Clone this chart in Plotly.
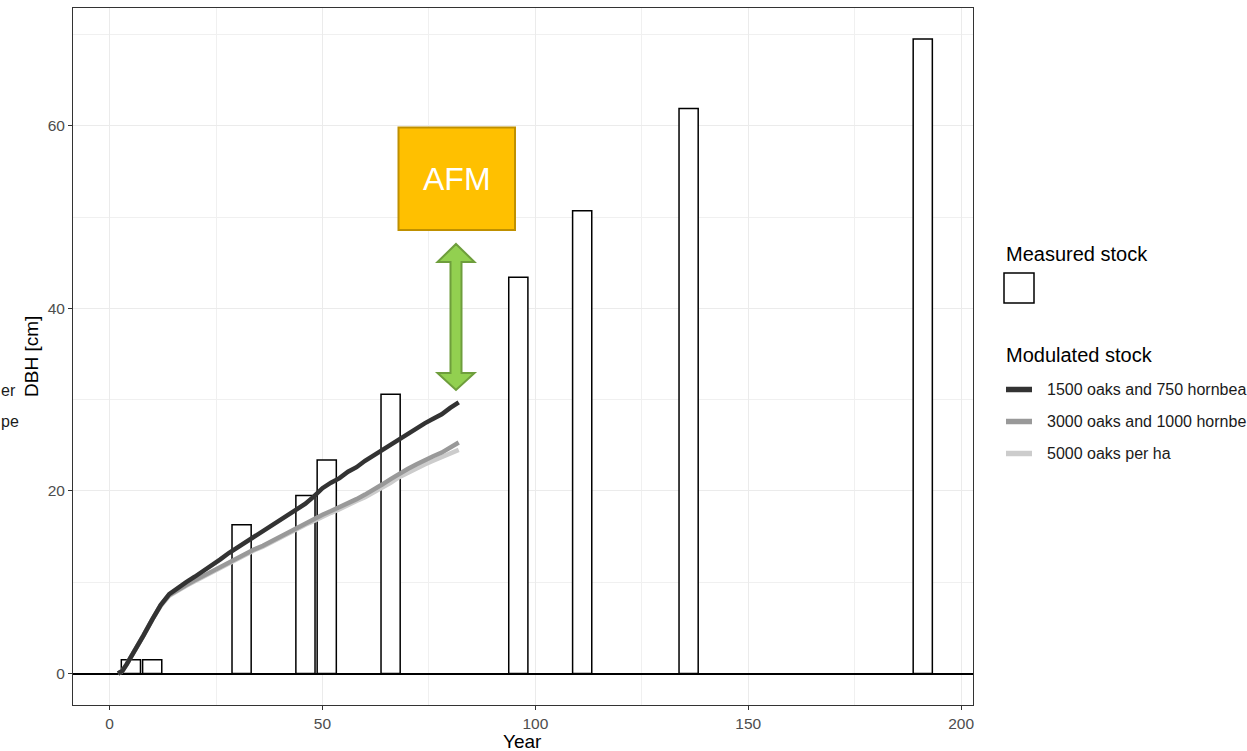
import plotly.graph_objects as go

# ---------------- data ----------------
bar_years = [5, 10, 31, 46, 51, 66, 96, 111, 136, 191]
bar_dbh = [1.5, 1.5, 16.3, 19.5, 23.4, 30.6, 43.4, 50.7, 61.9, 69.5]

line_years = [2, 3, 4, 6, 8, 10, 12, 14, 16, 18, 20, 22, 24, 26, 28, 30, 32, 34, 36, 38, 40,
              42, 44, 46, 48, 50, 52, 54, 56, 58, 60, 62, 64, 66, 68, 70, 72, 74, 76, 78, 80, 82]
dbh_1500 = [0.0, 0.3, 1.0, 2.5, 4.2, 5.9, 7.5, 8.7, 9.4, 10.0, 10.6, 11.2, 11.9, 12.5, 13.2,
            13.8, 14.4, 15.0, 15.5, 16.1, 16.7, 17.3, 17.9, 18.6, 19.4, 20.3, 20.9, 21.4, 22.1,
            22.6, 23.3, 23.9, 24.5, 25.1, 25.7, 26.3, 26.8, 27.4, 27.9, 28.4, 29.1, 29.7]
dbh_3000 = [0.0, 0.3, 1.0, 2.5, 4.2, 5.9, 7.5, 8.6, 9.2, 9.7, 10.2, 10.7, 11.2, 11.7, 12.2,
            12.6, 13.1, 13.6, 14.0, 14.5, 15.0, 15.5, 16.0, 16.5, 16.9, 17.4, 17.8, 18.2, 18.7,
            19.1, 19.6, 20.1, 20.7, 21.3, 21.9, 22.4, 22.9, 23.4, 23.8, 24.2, 24.8, 25.3]
dbh_5000 = [0.0, 0.3, 1.0, 2.5, 4.2, 5.9, 7.4, 8.5, 9.1, 9.6, 10.1, 10.6, 11.1, 11.6, 12.1,
            12.5, 13.0, 13.5, 13.9, 14.4, 14.9, 15.3, 15.8, 16.3, 16.7, 17.2, 17.6, 18.0, 18.5,
            18.9, 19.3, 19.8, 20.4, 20.9, 21.5, 22.0, 22.4, 22.9, 23.3, 23.7, 24.1, 24.5]

series_names = ["1500 oaks and 750 hornbeams per ha",
                "3000 oaks and 1000 hornbeams per ha",
                "5000 oaks per ha"]
# legend labels exactly as visible in the reference (it is cropped at the right edge)
legend_labels = ["1500 oaks and 750 hornbea",
                 "3000 oaks and 1000 hornbe",
                 "5000 oaks per ha"]
series_colors = ["#333333", "#999999", "#CCCCCC"]

x_ticks = [0, 50, 100, 150, 200]
y_ticks = [0, 20, 40, 60]

# ---------------- layout geometry ----------------
W, H = 1247, 751
L, R, T, B = 73, 973, 8, 705          # panel edges in pixels
PW, PH = R - L, B - T


def px(xp):
    return (xp - L) / PW


def py(yp):
    return (B - yp) / PH


FONT = "Liberation Sans, Arial, sans-serif"

fig = go.Figure()

fig.add_trace(go.Bar(
    x=bar_years, y=bar_dbh, width=4.5,
    marker=dict(color="white", line=dict(color="black", width=1.5)),
    showlegend=False, hoverinfo="x+y"))

for name, ys, col in [(series_names[2], dbh_5000, series_colors[2]),
                      (series_names[1], dbh_3000, series_colors[1]),
                      (series_names[0], dbh_1500, series_colors[0])]:
    fig.add_trace(go.Scatter(x=line_years, y=ys, mode="lines", name=name,
                             line=dict(color=col, width=4.5), showlegend=False))

axis_common = dict(
    showline=True, mirror=True, linecolor="#333333", linewidth=1,
    ticks="outside", ticklen=4, tickcolor="#333333", tickwidth=1,
    tickfont=dict(family=FONT, size=15.5, color="#4D4D4D"),
    showgrid=True, gridcolor="#EBEBEB", gridwidth=1.2,
)

fig.update_layout(
    width=W, height=H,
    margin=dict(l=L, r=W - R, t=T, b=H - B, pad=0),
    paper_bgcolor="white", plot_bgcolor="white",
    template="none",
    showlegend=False,
    barmode="overlay",
    xaxis=dict(range=[-8.6, 202.8], tickvals=x_ticks, ticktext=[str(v) for v in x_ticks],
               zeroline=False,
               minor=dict(tickvals=[25, 75, 125, 175], showgrid=True,
                          gridcolor="#F0F0F0", gridwidth=1, ticks=""),
               **axis_common),
    yaxis=dict(range=[-3.45, 72.9], tickvals=y_ticks, ticktext=[str(v) for v in y_ticks],
               zeroline=True, zerolinecolor="black", zerolinewidth=2,
               minor=dict(tickvals=[10, 30, 50, 70], showgrid=True,
                          gridcolor="#F0F0F0", gridwidth=1, ticks=""),
               **axis_common),
)

shapes = []
annotations = []

# axis titles
annotations.append(dict(text="Year", x=px(522), y=py(742), xref="paper", yref="paper",
                        xanchor="center", yanchor="middle", showarrow=False,
                        font=dict(family=FONT, size=19, color="black")))
annotations.append(dict(text="DBH [cm]", x=px(31), y=py(357), xref="paper", yref="paper",
                        xanchor="center", yanchor="middle", showarrow=False, textangle=-90,
                        font=dict(family=FONT, size=19, color="black")))

# AFM box
shapes.append(dict(type="rect", xref="paper", yref="paper",
                   x0=px(398.5), x1=px(515), y0=py(230), y1=py(127.5),
                   fillcolor="#FFC000", line=dict(color="#BF9000", width=2), layer="above"))
annotations.append(dict(text="AFM", x=px(456.7), y=py(179), xref="paper", yref="paper",
                        xanchor="center", yanchor="middle", showarrow=False,
                        font=dict(family=FONT, size=32, color="white")))

# green double arrow
cx, hw, sw = 456, 18.5, 5.5
top_tip, top_base, bot_base, bot_tip = 244, 262, 373, 390
pts = [(cx, top_tip), (cx + hw, top_base), (cx + sw, top_base), (cx + sw, bot_base),
       (cx + hw, bot_base), (cx, bot_tip), (cx - hw, bot_base), (cx - sw, bot_base),
       (cx - sw, top_base), (cx - hw, top_base)]
path = "M " + " L ".join(f"{px(a):.5f},{py(b):.5f}" for a, b in pts) + " Z"
shapes.append(dict(type="path", xref="paper", yref="paper", path=path,
                   fillcolor="#92D050", line=dict(color="#6E9E3C", width=2), layer="above"))

# manual legend
annotations.append(dict(text="Measured stock", x=px(1004), y=py(254), xref="paper", yref="paper",
                        xanchor="left", yanchor="middle", showarrow=False,
                        font=dict(family=FONT, size=20, color="black")))
shapes.append(dict(type="rect", xref="paper", yref="paper",
                   x0=px(1004), x1=px(1034), y0=py(303), y1=py(273),
                   fillcolor="white", line=dict(color="black", width=1.5)))
annotations.append(dict(text="Modulated stock", x=px(1004), y=py(355), xref="paper", yref="paper",
                        xanchor="left", yanchor="middle", showarrow=False,
                        font=dict(family=FONT, size=20, color="black")))
for i, (label, col) in enumerate(zip(legend_labels, series_colors)):
    yy = 389.5 + 32 * i
    shapes.append(dict(type="line", xref="paper", yref="paper",
                       x0=px(1006), x1=px(1032), y0=py(yy), y1=py(yy),
                       line=dict(color=col, width=5.5)))
    annotations.append(dict(text=label, x=px(1045), y=py(yy), xref="paper", yref="paper",
                            xanchor="left", yanchor="middle", showarrow=False,
                            font=dict(family=FONT, size=16, color="#1A1A1A")))

# legend fragments visible at the far left edge of the reference
annotations.append(dict(text="er", x=px(-1), y=py(390),
                        xref="paper", yref="paper", xanchor="left", yanchor="middle",
                        showarrow=False, font=dict(family=FONT, size=16, color="#1A1A1A")))
annotations.append(dict(text="pe", x=px(-1), y=py(421.5),
                        xref="paper", yref="paper", xanchor="left", yanchor="middle",
                        showarrow=False, font=dict(family=FONT, size=16, color="#1A1A1A")))

fig.update_layout(shapes=shapes, annotations=annotations)

fig.write_html("out.html")
